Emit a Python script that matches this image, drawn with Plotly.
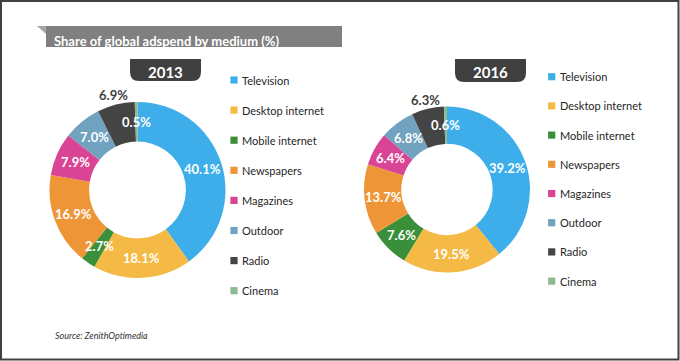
import math
import plotly.graph_objects as go

# ---------------- data ----------------
categories = ["Television", "Desktop internet", "Mobile internet", "Newspapers",
              "Magazines", "Outdoor", "Radio", "Cinema"]
values_2013 = [40.1, 18.1, 2.7, 16.9, 7.9, 7.0, 6.9, 0.5]
values_2016 = [39.2, 19.5, 7.6, 13.7, 6.4, 6.8, 6.3, 0.6]
years = ["2013", "2016"]
title_text = "Share of global adspend by medium (%)"
source_text = "Source: ZenithOptimedia"
outside_label_categories = ["Radio"]

# ---------------- style ----------------
colors = ["#3DAEE9", "#F5B945", "#3A8F3A", "#EE9637",
          "#DA4494", "#71A2BF", "#444444", "#8DBA8E"]
W, H = 680, 361
FONT = "Lato"
HOLE = 0.55

# pie geometry (pixels): centre x, centre y, radius
pies = [
    dict(cx=137.5, cy=190.0, r=88.0),
    dict(cx=447.0, cy=189.5, r=83.0),
]
# year tabs (pixels)
tabs = [
    dict(x0=130, x1=201, y0=59, y1=81),
    dict(x0=455, x1=526, y0=59, y1=82),
]
# legends (pixels): square centre x, first item y, spacing
legends = [
    dict(x=234.0, y=80.0, dy=30.1),
    dict(x=551.7, y=76.7, dy=29.2),
]


def px(x):
    return x / W


def py(y):
    return 1 - y / H


fig = go.Figure()
annotations = []
shapes = []

all_values = [values_2013, values_2016]

for vals, geo in zip(all_values, pies):
    cx, cy, r = geo["cx"], geo["cy"], geo["r"]
    fig.add_trace(go.Pie(
        labels=categories,
        values=vals,
        hole=HOLE,
        sort=False,
        direction="clockwise",
        rotation=0,
        textinfo="none",
        hoverinfo="label+value",
        marker=dict(colors=colors, line=dict(width=0)),
        showlegend=False,
        domain=dict(x=[px(cx - r), px(cx + r)], y=[py(cy + r), py(cy - r)]),
    ))
    # slice labels computed from the data
    total = sum(vals)
    cum = 0.0
    r_in = r * HOLE
    for cat, v in zip(categories, vals):
        mid = (cum + v / 2) / total * 2 * math.pi
        cum += v
        if cat in outside_label_categories:
            rl = r + 9.5
            col = "#404040"
        else:
            rl = (r + r_in) / 2
            col = "white"
        x = cx + rl * math.sin(mid)
        y = cy - rl * math.cos(mid)
        annotations.append(dict(
            x=px(x), y=py(y), xref="paper", yref="paper",
            text=f"{v:.1f}%", showarrow=False,
            xanchor="center", yanchor="middle",
            font=dict(family=FONT, size=13, color=col, weight="bold"),
        ))

# year tabs
for yr, t in zip(years, tabs):
    x0, x1, y0, y1 = t["x0"], t["x1"], t["y0"], t["y1"]
    rr = 9
    path = (f"M {px(x0)},{py(y0)} L {px(x1)},{py(y0)} L {px(x1)},{py(y1 - rr)} "
            f"Q {px(x1)},{py(y1)} {px(x1 - rr)},{py(y1)} L {px(x0 + rr)},{py(y1)} "
            f"Q {px(x0)},{py(y1)} {px(x0)},{py(y1 - rr)} Z")
    shapes.append(dict(type="path", path=path, xref="paper", yref="paper",
                       fillcolor="#404040", line=dict(width=0), layer="below"))
    annotations.append(dict(
        x=px((x0 + x1) / 2), y=py((y0 + y1) / 2 + 1.5), xref="paper", yref="paper",
        text=yr, showarrow=False, xanchor="center", yanchor="middle",
        font=dict(family=FONT, size=15, color="white", weight="bold"),
    ))

# legends
for lg in legends:
    for i, (cat, col) in enumerate(zip(categories, colors)):
        yc = lg["y"] + i * lg["dy"]
        s = 3.6
        shapes.append(dict(type="rect", xref="paper", yref="paper",
                           x0=px(lg["x"] - s), x1=px(lg["x"] + s),
                           y0=py(yc + s), y1=py(yc - s),
                           fillcolor=col, line=dict(width=0)))
        annotations.append(dict(
            x=px(lg["x"] + 6), y=py(yc), xref="paper", yref="paper",
            text=cat, showarrow=False, xanchor="left", yanchor="middle",
            font=dict(family=FONT, size=11, color="#262626"),
        ))

# title ribbon
shapes.append(dict(type="rect", xref="paper", yref="paper",
                   x0=px(46), x1=px(342), y0=py(47), y1=py(26),
                   fillcolor="#808080", line=dict(width=0)))
shapes.append(dict(type="path", xref="paper", yref="paper",
                   path=f"M {px(37)},{py(26)} L {px(46)},{py(26)} L {px(46)},{py(34)} Z",
                   fillcolor="#A6A6A6", line=dict(width=0)))
annotations.append(dict(
    x=px(52), y=py(40.5), xref="paper", yref="paper", text=title_text,
    showarrow=False, xanchor="left", yanchor="middle",
    font=dict(family=FONT, size=13, color="white", weight="bold"),
))

# source
annotations.append(dict(
    x=px(52.5), y=py(335), xref="paper", yref="paper", text=source_text,
    showarrow=False, xanchor="left", yanchor="middle",
    font=dict(family=FONT, size=9, color="#333333", style="italic"),
))

# outer border
shapes.append(dict(type="rect", xref="paper", yref="paper",
                   x0=px(1), x1=px(W - 1.5), y0=py(H - 1.5), y1=py(1),
                   line=dict(color="#404040", width=2), fillcolor="rgba(0,0,0,0)"))

fig.update_layout(
    width=W, height=H,
    margin=dict(l=0, r=0, t=0, b=0),
    paper_bgcolor="white", plot_bgcolor="white",
    showlegend=False,
    shapes=shapes,
    annotations=annotations,
)

fig.write_html(
    "out.html",
    config={"displayModeBar": False},
    post_script="document.body.style.margin='0px';document.body.style.overflow='hidden';",
)
